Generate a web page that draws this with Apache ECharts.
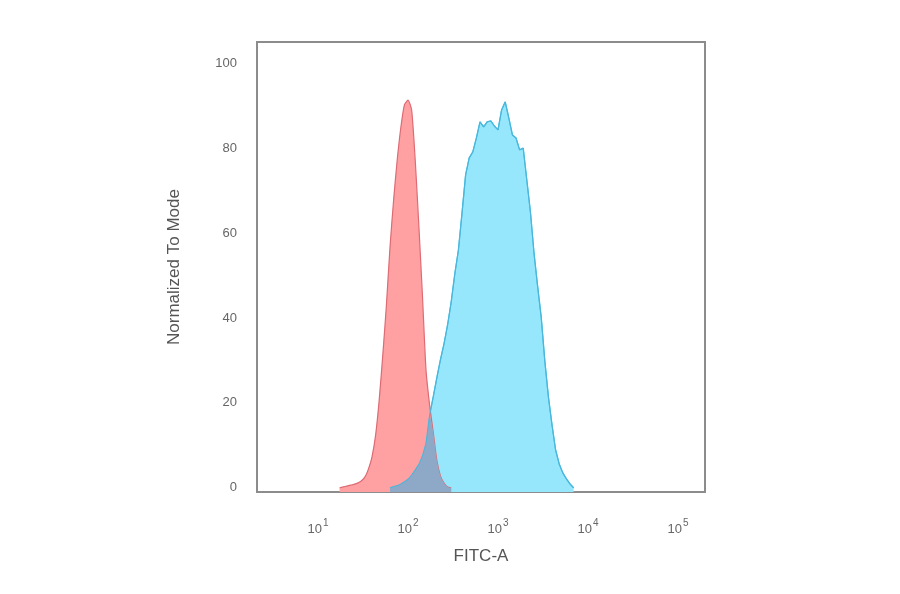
<!DOCTYPE html>
<html>
<head>
<meta charset="utf-8">
<script src="https://cdn.jsdelivr.net/npm/echarts@6/dist/echarts.min.js"></script>
<style>html,body{margin:0;padding:0;background:#fff;}#chart{width:900px;height:594px;}</style>
</head>
<body>
<div id="chart"></div>
<script>
// log10(FITC-A) sample positions (decades)
const logFITC = [1.20,1.24,1.28,1.32,1.36,1.40,1.44,1.48,1.52,1.56,1.60,1.64,1.68,1.72,1.76,1.80,1.84,1.88,1.92,1.96,
  2.00,2.04,2.08,2.12,2.16,2.20,2.24,2.28,2.32,2.36,2.40,2.44,2.48,2.52,2.56,2.60,2.64,2.68,2.72,2.76,
  2.80,2.84,2.88,2.92,2.96,3.00,3.04,3.08,3.12,3.16,3.20,3.24,3.28,3.32,3.36,3.40,3.44,3.48,3.52,3.56,
  3.60,3.64,3.68,3.72,3.76,3.80,3.84,3.88,3.92];
// isotype control (red)
const isotype = [0,0,0.2,0.4,0.6,0.8,1.1,1.6,2.5,4.4,7.3,12.4,20.7,31.3,43.0,56.7,67.8,77.2,84.8,90.2,
  91.3,89.0,77.2,61.9,45.4,27.7,19.5,13.1,6.5,2.8,1.1,0.2,0,0,0,0,0,0,0,0,
  0,0,0,0,0,0,0,0,0,0,0,0,0,0,0,0,0,0,0,0,
  0,0,0,0,0,0,0,0,0];
// stained sample (blue)
const stained = [0,0,0,0,0,0,0,0,0,0,0,0,0,0,0,0,0.3,0.5,0.9,1.4,
  2.0,3.0,4.2,5.5,7.5,10.5,17.1,21.4,25.9,30.1,33.9,38.4,43.8,50.4,56.0,64.7,73.7,77.7,79.1,82.4,
  86.2,85.0,86.2,86.4,85.2,84.3,89.0,90.9,87.1,83.1,82.4,79.6,80.0,72.5,65.0,55.3,47.5,40.2,29.9,21.4,
  14.8,8.9,5.6,3.5,2.1,0.9,0,0,0];
const xTicks = [1,2,3,4,5];
const yTicks = [0,20,40,60,80,100];

// keep only the populated part of a histogram (one zero on each side)
function trim(vals){
  let a = vals.findIndex(v=>v>0), b = vals.length-1;
  while(b>=0 && !(vals[b]>0)) b--;
  return vals.map((v,i)=>(i>=a-1 && i<=b+1) ? [logFITC[i],v] : [logFITC[i],null]);
}
const redData = trim(isotype);
const blueData = trim(stained);
const overlapData = trim(isotype.map((v,i)=>Math.min(v,stained[i])));

const chart = echarts.init(document.getElementById('chart'), null, {renderer:'canvas'});
const font = 'Liberation Sans, Arial, sans-serif';
chart.setOption({
  animation:false,
  backgroundColor:'#ffffff',
  grid:{left:257,right:195,top:42,bottom:102,show:true,borderColor:'#8c8c8c',borderWidth:2,backgroundColor:'transparent'},
  xAxis:{
    type:'value',min:0.322,max:5.3,
    name:'FITC-A',nameLocation:'middle',nameGap:56,
    nameTextStyle:{color:'#555',fontSize:17,fontFamily:font},
    axisLine:{show:false},axisTick:{show:false},splitLine:{show:false},
    axisLabel:{customValues:xTicks,margin:26,color:'#666',fontFamily:font,
      formatter:v=>'{b|10}{s|'+v+'}',
      rich:{b:{fontSize:13,color:'#666',fontFamily:font},s:{fontSize:10,color:'#666',fontFamily:font,padding:[0,0,12,1]}}}
  },
  yAxis:{
    type:'value',min:-1,max:105,
    name:'Normalized To Mode',nameLocation:'middle',nameGap:74,
    nameTextStyle:{color:'#555',fontSize:17,fontFamily:font},
    axisLine:{show:false},axisTick:{show:false},splitLine:{show:false},
    axisLabel:{customValues:yTicks,margin:20,color:'#666',fontSize:13,fontFamily:font}
  },
  series:[
    {type:'line',data:blueData,symbol:'none',smooth:false,z:2,
      lineStyle:{color:'#3ec6ec',width:1.3},areaStyle:{color:'#96e7fb',opacity:1,origin:'start'}},
    {type:'line',data:redData,symbol:'none',smooth:0.2,z:3,
      lineStyle:{color:'#dc6b74',width:1.2},areaStyle:{color:'#ffa1a3',opacity:1,origin:'start'}},
    {type:'line',data:overlapData,symbol:'none',smooth:0.2,z:4,
      lineStyle:{width:0},areaStyle:{color:'#8ea8c8',opacity:1,origin:'start'}},
    {type:'line',data:blueData,symbol:'none',smooth:false,z:5,
      lineStyle:{color:'#4fb4d8',width:1.1}}
  ]
});
</script>
</body>
</html>
